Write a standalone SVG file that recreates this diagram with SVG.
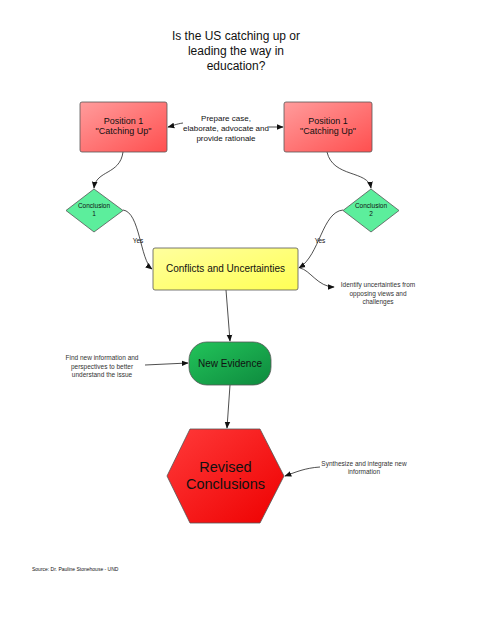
<svg xmlns="http://www.w3.org/2000/svg" width="495" height="640" viewBox="0 0 495 640">
<defs>
<linearGradient id="gPos" x1="0" y1="0" x2="1" y2="1"><stop offset="0" stop-color="#ff9c9c"/><stop offset="1" stop-color="#ff4f4f"/></linearGradient>
<linearGradient id="gYel" x1="0" y1="0" x2="1" y2="1"><stop offset="0" stop-color="#ffff9e"/><stop offset="1" stop-color="#ffff55"/></linearGradient>
<linearGradient id="gGrn" x1="0" y1="0" x2="1" y2="1"><stop offset="0" stop-color="#22c45a"/><stop offset="1" stop-color="#0e8a3e"/></linearGradient>
<linearGradient id="gRed" x1="0" y1="0" x2="1" y2="1"><stop offset="0" stop-color="#ff3a3a"/><stop offset="1" stop-color="#ee0000"/></linearGradient>
<marker id="ah" viewBox="0 0 10 10" refX="9" refY="5" markerWidth="7" markerHeight="7" markerUnits="userSpaceOnUse" orient="auto"><path d="M0,1 L10,5 L0,9 Z" fill="#111"/></marker>
</defs>
<style>
text{font-family:"Liberation Sans",Arial,sans-serif;fill:#111;text-anchor:middle}
.shape{stroke:#555;stroke-width:0.8}
.conn path{fill:none;stroke:#222;stroke-width:0.8;marker-end:url(#ah)}
.note{font-size:6.5px;fill:#333}
</style>
<rect width="495" height="640" fill="#fff"/>

<g id="title"><text x="236" y="40" font-size="12">Is the US catching up or</text><text x="236" y="55" font-size="12">leading the way in</text><text x="236" y="70" font-size="12">education?</text></g>

<g class="conn" id="connectors">
<path d="M183,123 C176,124 172,126 168,127"/>
<path d="M269,127 L283,127"/>
<path d="M123,152 C120,175 96,170 94,188"/>
<path d="M327,152 C333,178 368,170 371,188"/>
<path d="M123,210 C140,212 140,260 152,269"/>
<path d="M343,210 C322,212 320,255 299,268"/>
<path d="M300,268 C310,270 318,287 334,287"/>
<path d="M226,290 L230,341"/>
<path d="M145,365 L188,363"/>
<path d="M230,385 L227,428"/>
<path d="M320,467 C305,468 296,472 285,476"/>
</g>

<g id="labels">
<text x="226" y="121" font-size="8">Prepare case,</text>
<text x="226" y="131" font-size="8">elaborate, advocate and</text>
<text x="226" y="141" font-size="8">provide rationale</text>
<text x="138" y="243" font-size="6.5" fill="#333">Yes</text>
<text x="320" y="243" font-size="6.5" fill="#333">Yes</text>
<text class="note" x="378" y="287">Identify uncertainties from</text>
<text class="note" x="378" y="295.5">opposing views and</text>
<text class="note" x="378" y="304">challenges</text>
<text class="note" x="102" y="360">Find new information and</text>
<text class="note" x="102" y="368.5">perspectives to better</text>
<text class="note" x="102" y="377">understand the issue</text>
<text class="note" x="364" y="466">Synthesize and integrate new</text>
<text class="note" x="364" y="474">information</text>
</g>

<g id="pos1-left"><rect class="shape" x="80" y="102" width="87" height="50" rx="2" fill="url(#gPos)"/><text x="123.5" y="124" font-size="9">Position 1</text><text x="123.5" y="134" font-size="9">"Catching Up"</text></g>
<g id="pos1-right"><rect class="shape" x="284" y="102" width="88" height="50" rx="2" fill="url(#gPos)"/><text x="328" y="124" font-size="9">Position 1</text><text x="328" y="134" font-size="9">"Catching Up"</text></g>

<g id="conclusion1"><polygon class="shape" points="94,189 123,210.5 94,232 66,210.5" fill="#5cee9c" stroke-linejoin="round"/><text x="94" y="208" font-size="6.5">Conclusion</text><text x="94" y="216" font-size="6.5">1</text></g>
<g id="conclusion2"><polygon class="shape" points="371,189 399,210.5 371,232 343,210.5" fill="#5cee9c" stroke-linejoin="round"/><text x="371" y="208" font-size="6.5">Conclusion</text><text x="371" y="216" font-size="6.5">2</text></g>

<g id="conflicts"><rect class="shape" x="153" y="248" width="145" height="42" rx="2" fill="url(#gYel)"/><text x="225.5" y="272" font-size="10">Conflicts and Uncertainties</text></g>

<g id="new-evidence"><rect class="shape" x="189" y="342" width="82" height="43" rx="18" fill="url(#gGrn)"/><text x="230" y="367" font-size="10">New Evidence</text></g>

<g id="revised"><polygon class="shape" points="190,429 260,429 284,476 260,523 190,523 167,476" fill="url(#gRed)" stroke-linejoin="round"/><text x="225.5" y="472" font-size="14.5">Revised</text><text x="225.5" y="489" font-size="14.5">Conclusions</text></g>

<g id="source"><text x="32" y="571" font-size="5" fill="#444" style="text-anchor:start">Source: Dr. Pauline Stonehouse - UND</text></g>
</svg>
